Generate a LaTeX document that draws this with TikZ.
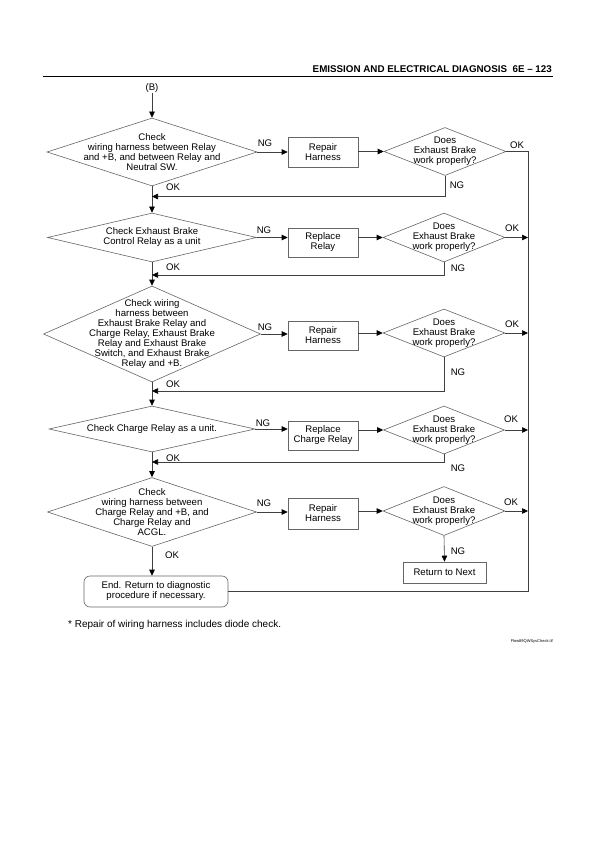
\documentclass[tikz,border=0pt]{standalone}
\usepackage{fontspec}
\setmainfont{Liberation Sans}
\usetikzlibrary{shapes.geometric,arrows.meta,calc}
\begin{document}
\begin{tikzpicture}[x=1pt,y=-1pt,
  dia/.style={diamond,draw=black!60,line width=0.6pt,inner sep=0pt,aspect=1},
  txt/.style={align=center,font=\fontsize{9.6}{10}\selectfont,inner sep=0pt},
  boxn/.style={rectangle,draw=black!60,line width=0.6pt,inner sep=0pt,align=center,font=\fontsize{9.6}{10}\selectfont},
  lab/.style={font=\fontsize{9.6}{10}\selectfont,inner sep=0pt},
  con/.style={draw=black!75,line width=0.6pt},
  arr/.style={con,-{Triangle[length=6pt,width=5.5pt,fill=black,color=black]}},
]
\useasboundingbox[fill=white] (0,0) rectangle (595,842);

% header
\node[anchor=base east,font=\bfseries\fontsize{9.8}{10}\selectfont,inner sep=0pt] (hdr) at (552,73) {EMISSION AND ELECTRICAL DIAGNOSIS\ \ 6E -- 123};
\coordinate (rl) at (43,76.5);
\coordinate (rr) at (553,76.5);
\draw[line width=1.2pt] (rl) -- (rr);

% start
\node[lab] (B) at (152,88) {(B)};

% left diamonds
\node[dia,minimum width=210pt,minimum height=68pt] (L1) at (152,152) {};
\node[txt] (tL1) at (L1.center) {Check\\wiring harness between Relay\\and +B, and between Relay and\\Neutral SW.};
\node[dia,minimum width=209pt,minimum height=49pt] (L2) at (152,237.5) {};
\node[txt] (tL2) at (L2.center) {Check Exhaust Brake\\Control Relay as a unit};
\node[dia,minimum width=217pt,minimum height=96pt] (L3) at (152,334) {};
\node[txt] (tL3) at (L3.center) {Check wiring\\harness between\\Exhaust Brake Relay and\\Charge Relay, Exhaust Brake\\Relay and Exhaust Brake\\Switch, and Exhaust Brake\\Relay and +B.};
\node[dia,minimum width=206pt,minimum height=46pt] (L4) at (152,429) {};
\node[txt] (tL4) at (L4.center) {Check Charge Relay as a unit.};
\node[dia,minimum width=209pt,minimum height=69pt] (L5) at (152,512) {};
\node[txt] (tL5) at (L5.center) {Check\\wiring harness between\\Charge Relay and +B, and\\Charge Relay and\\ACGL.};

% boxes
\node[boxn,minimum width=70pt,minimum height=30pt] (X1) at (323,152) {Repair\\Harness};
\node[boxn,minimum width=70pt,minimum height=29pt] (X2) at (323,242.5) {Replace\\Relay};
\node[boxn,minimum width=70pt,minimum height=29pt] (X3) at (323,335.5) {Repair\\Harness};
\node[boxn,minimum width=70pt,minimum height=29pt] (X4) at (323,435.5) {Replace\\Charge Relay};
\node[boxn,minimum width=70pt,minimum height=31pt] (X5) at (323,513.5) {Repair\\Harness};

% right diamonds
\node[dia,minimum width=122pt,minimum height=48pt] (R1) at (445,151.5) {};
\node[txt] (tR1) at (R1.center) {Does\\Exhaust Brake\\work properly?};
\node[dia,minimum width=122pt,minimum height=49pt] (R2) at (444,237.5) {};
\node[txt] (tR2) at (R2.center) {Does\\Exhaust Brake\\work properly?};
\node[dia,minimum width=122pt,minimum height=48pt] (R3) at (444,333) {};
\node[txt] (tR3) at (R3.center) {Does\\Exhaust Brake\\work properly?};
\node[dia,minimum width=121pt,minimum height=48pt] (R4) at (444,430) {};
\node[txt] (tR4) at (R4.center) {Does\\Exhaust Brake\\work properly?};
\node[dia,minimum width=122pt,minimum height=49pt] (R5) at (444,511) {};
\node[txt] (tR5) at (R5.center) {Does\\Exhaust Brake\\work properly?};

% terminals
\node[boxn,minimum width=83pt,minimum height=21pt] (RN) at (444.5,572.5) {Return to Next};
\node[boxn,rounded corners=6pt,minimum width=144pt,minimum height=31pt] (END) at (156,591.5) {End. Return to diagnostic\\procedure if necessary.};

% right bus
\coordinate (bt) at (528,151.5);
\coordinate (bb) at (528,591.5);
% junctions on the main line
\coordinate (j1) at (152,196.5);
\coordinate (j2) at (152,275);
\coordinate (j3) at (152,391);
\coordinate (j4) at (152,462);

% main vertical
\draw[arr] (B) -- (L1.north);
\draw[arr] (L1.south) -- (L2.north);
\draw[arr] (L2.south) -- (L3.north);
\draw[arr] (L3.south) -- (L4.north);
\draw[arr] (L4.south) -- (L5.north);
\draw[arr] (L5.south) -- (END.north -| L5.south);

% NG to boxes
\draw[arr] (L1.east) -- (L1.east -| X1.west);
\draw[arr] (L2.east) -- (L2.east -| X2.west);
\draw[arr] (L3.east) -- (L3.east -| X3.west);
\draw[arr] (L4.east) -- (L4.east -| X4.west);
\draw[arr] (L5.east) -- (L5.east -| X5.west);

% boxes to right diamonds
\draw[arr] (R1.west -| X1.east) -- (R1.west);
\draw[arr] (R2.west -| X2.east) -- (R2.west);
\draw[arr] (R3.west -| X3.east) -- (R3.west);
\draw[arr] (R4.west -| X4.east) -- (R4.west);
\draw[arr] (R5.west -| X5.east) -- (R5.west);

% OK to bus
\draw[con] (R1.east) -- (bt) -- (bb) -- (END.east);
\draw[arr] (R2.east) -- (R2.east -| bt);
\draw[arr] (R3.east) -- (R3.east -| bt);
\draw[arr] (R4.east) -- (R4.east -| bt);
\draw[arr] (R5.east) -- (R5.east -| bt);

% NG returns
\draw[arr] (R1.south) |- (j1);
\draw[arr] (R2.south) |- (j2);
\draw[arr] (R3.south) |- (j3);
\draw[arr] (R4.south) |- (j4);
\draw[arr] (R5.south) -- (RN.north);

% labels NG (left)
\node[lab] (n1) at (265,143) {NG};
\node[lab] (n2) at (264,230) {NG};
\node[lab] (n3) at (265,327) {NG};
\node[lab] (n4) at (263,423) {NG};
\node[lab] (n5) at (264,503) {NG};
% OK right
\node[lab] (o1) at (517,145) {OK};
\node[lab] (o2) at (512,228) {OK};
\node[lab] (o3) at (512,324) {OK};
\node[lab] (o4) at (511,419) {OK};
\node[lab] (o5) at (511,502) {OK};
% NG below right
\node[lab] (m1) at (457,185) {NG};
\node[lab] (m2) at (458,268) {NG};
\node[lab] (m3) at (458,372) {NG};
\node[lab] (m4) at (458,468) {NG};
\node[lab] (m5) at (458,551) {NG};
% OK below left
\node[lab] (k1) at (173,187) {OK};
\node[lab] (k2) at (173,267) {OK};
\node[lab] (k3) at (173,384) {OK};
\node[lab] (k4) at (173,458) {OK};
\node[lab] (k5) at (172,555) {OK};

% footnote
\node[font=\fontsize{10}{11}\selectfont,inner sep=0pt,anchor=west] (fn) at (68,625) {* Repair of wiring harness includes diode check.};
\node[font=\fontsize{4}{5}\selectfont,inner sep=0pt,anchor=east] (fname) at (553,641) {Flow89QWSysCheck.tif};
\end{tikzpicture}
\end{document}
